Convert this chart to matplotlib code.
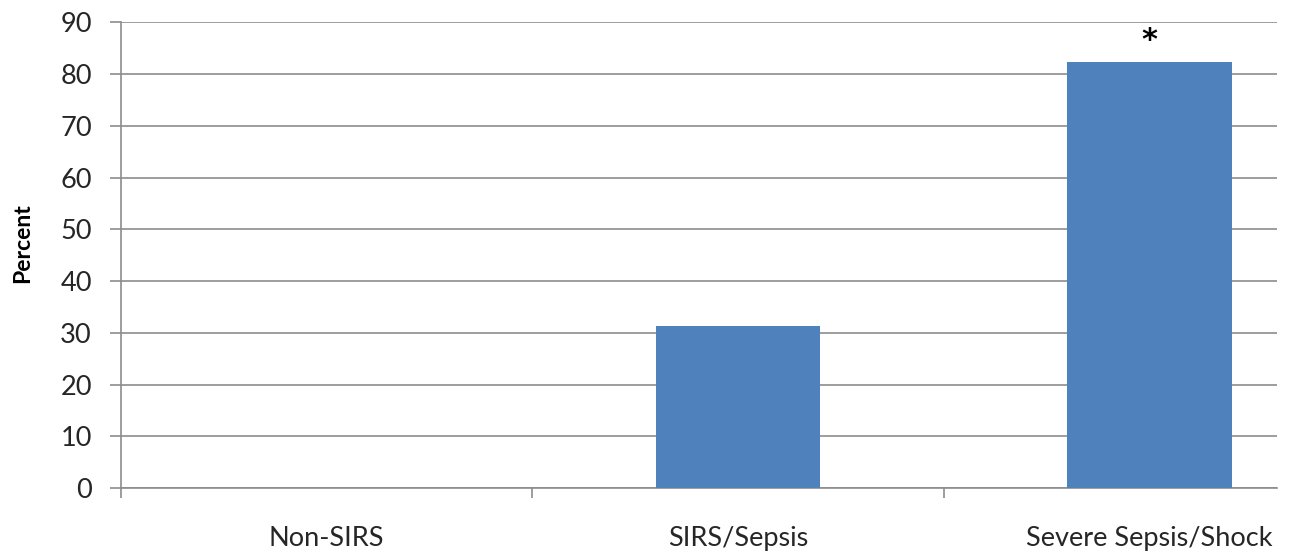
import matplotlib
matplotlib.use("Agg")
import matplotlib.pyplot as plt

categories = ["Non-SIRS", "SIRS/Sepsis", "Severe Sepsis/Shock"]
percent = [0.0, 31.3, 82.4]
y_ticks = [0, 10, 20, 30, 40, 50, 60, 70, 80, 90]
star_on = [False, False, True]

plt.rcParams["font.family"] = ["Lato", "DejaVu Sans"]
GRID = "#8c8c8c"
BLUE = "#4f81bd"

fig = plt.figure(figsize=(12.93, 5.55), dpi=100)
ax = fig.add_axes([0.0936, 0.1207, 0.8940, 0.8389])

x = list(range(len(categories)))
bars = ax.bar(x, percent, width=0.4, color=BLUE, zorder=3)
for b, v, s in zip(bars, percent, star_on):
    if s:
        ax.text(b.get_x() + b.get_width() / 2, 86.6, "*", ha="center", va="center",
                fontsize=22, fontweight="bold", color="black", family="DejaVu Sans")

ax.set_xlim(-0.5, 2.31)
ax.set_ylim(0, 90)
ax.set_yticks(y_ticks)
ax.yaxis.grid(True, color=GRID, lw=1.2, zorder=0)
ax.set_axisbelow(True)

ax.set_xticks(x)
ax.set_xticklabels(categories, fontsize=19.5, color="#262626")
ax.tick_params(axis="x", which="major", length=0, pad=27)
ax.set_xticks([-0.5, 0.5, 1.5], minor=True)
ax.tick_params(axis="x", which="minor", length=7, color=GRID, width=1.2)
ax.tick_params(axis="y", length=8, color=GRID, width=1.2, labelsize=19.5,
               labelcolor="#262626", pad=13)

for s in ["top", "right"]:
    ax.spines[s].set_visible(False)
ax.spines["left"].set_color(GRID)
ax.spines["left"].set_linewidth(1.2)
ax.spines["bottom"].set_color(GRID)
ax.spines["bottom"].set_linewidth(1.2)

fig.text(23 / 1293, 1 - 243 / 555, "Percent", rotation=90, ha="center", va="center",
         fontsize=16.5, fontweight="bold")

fig.savefig("out.png", dpi=100)
